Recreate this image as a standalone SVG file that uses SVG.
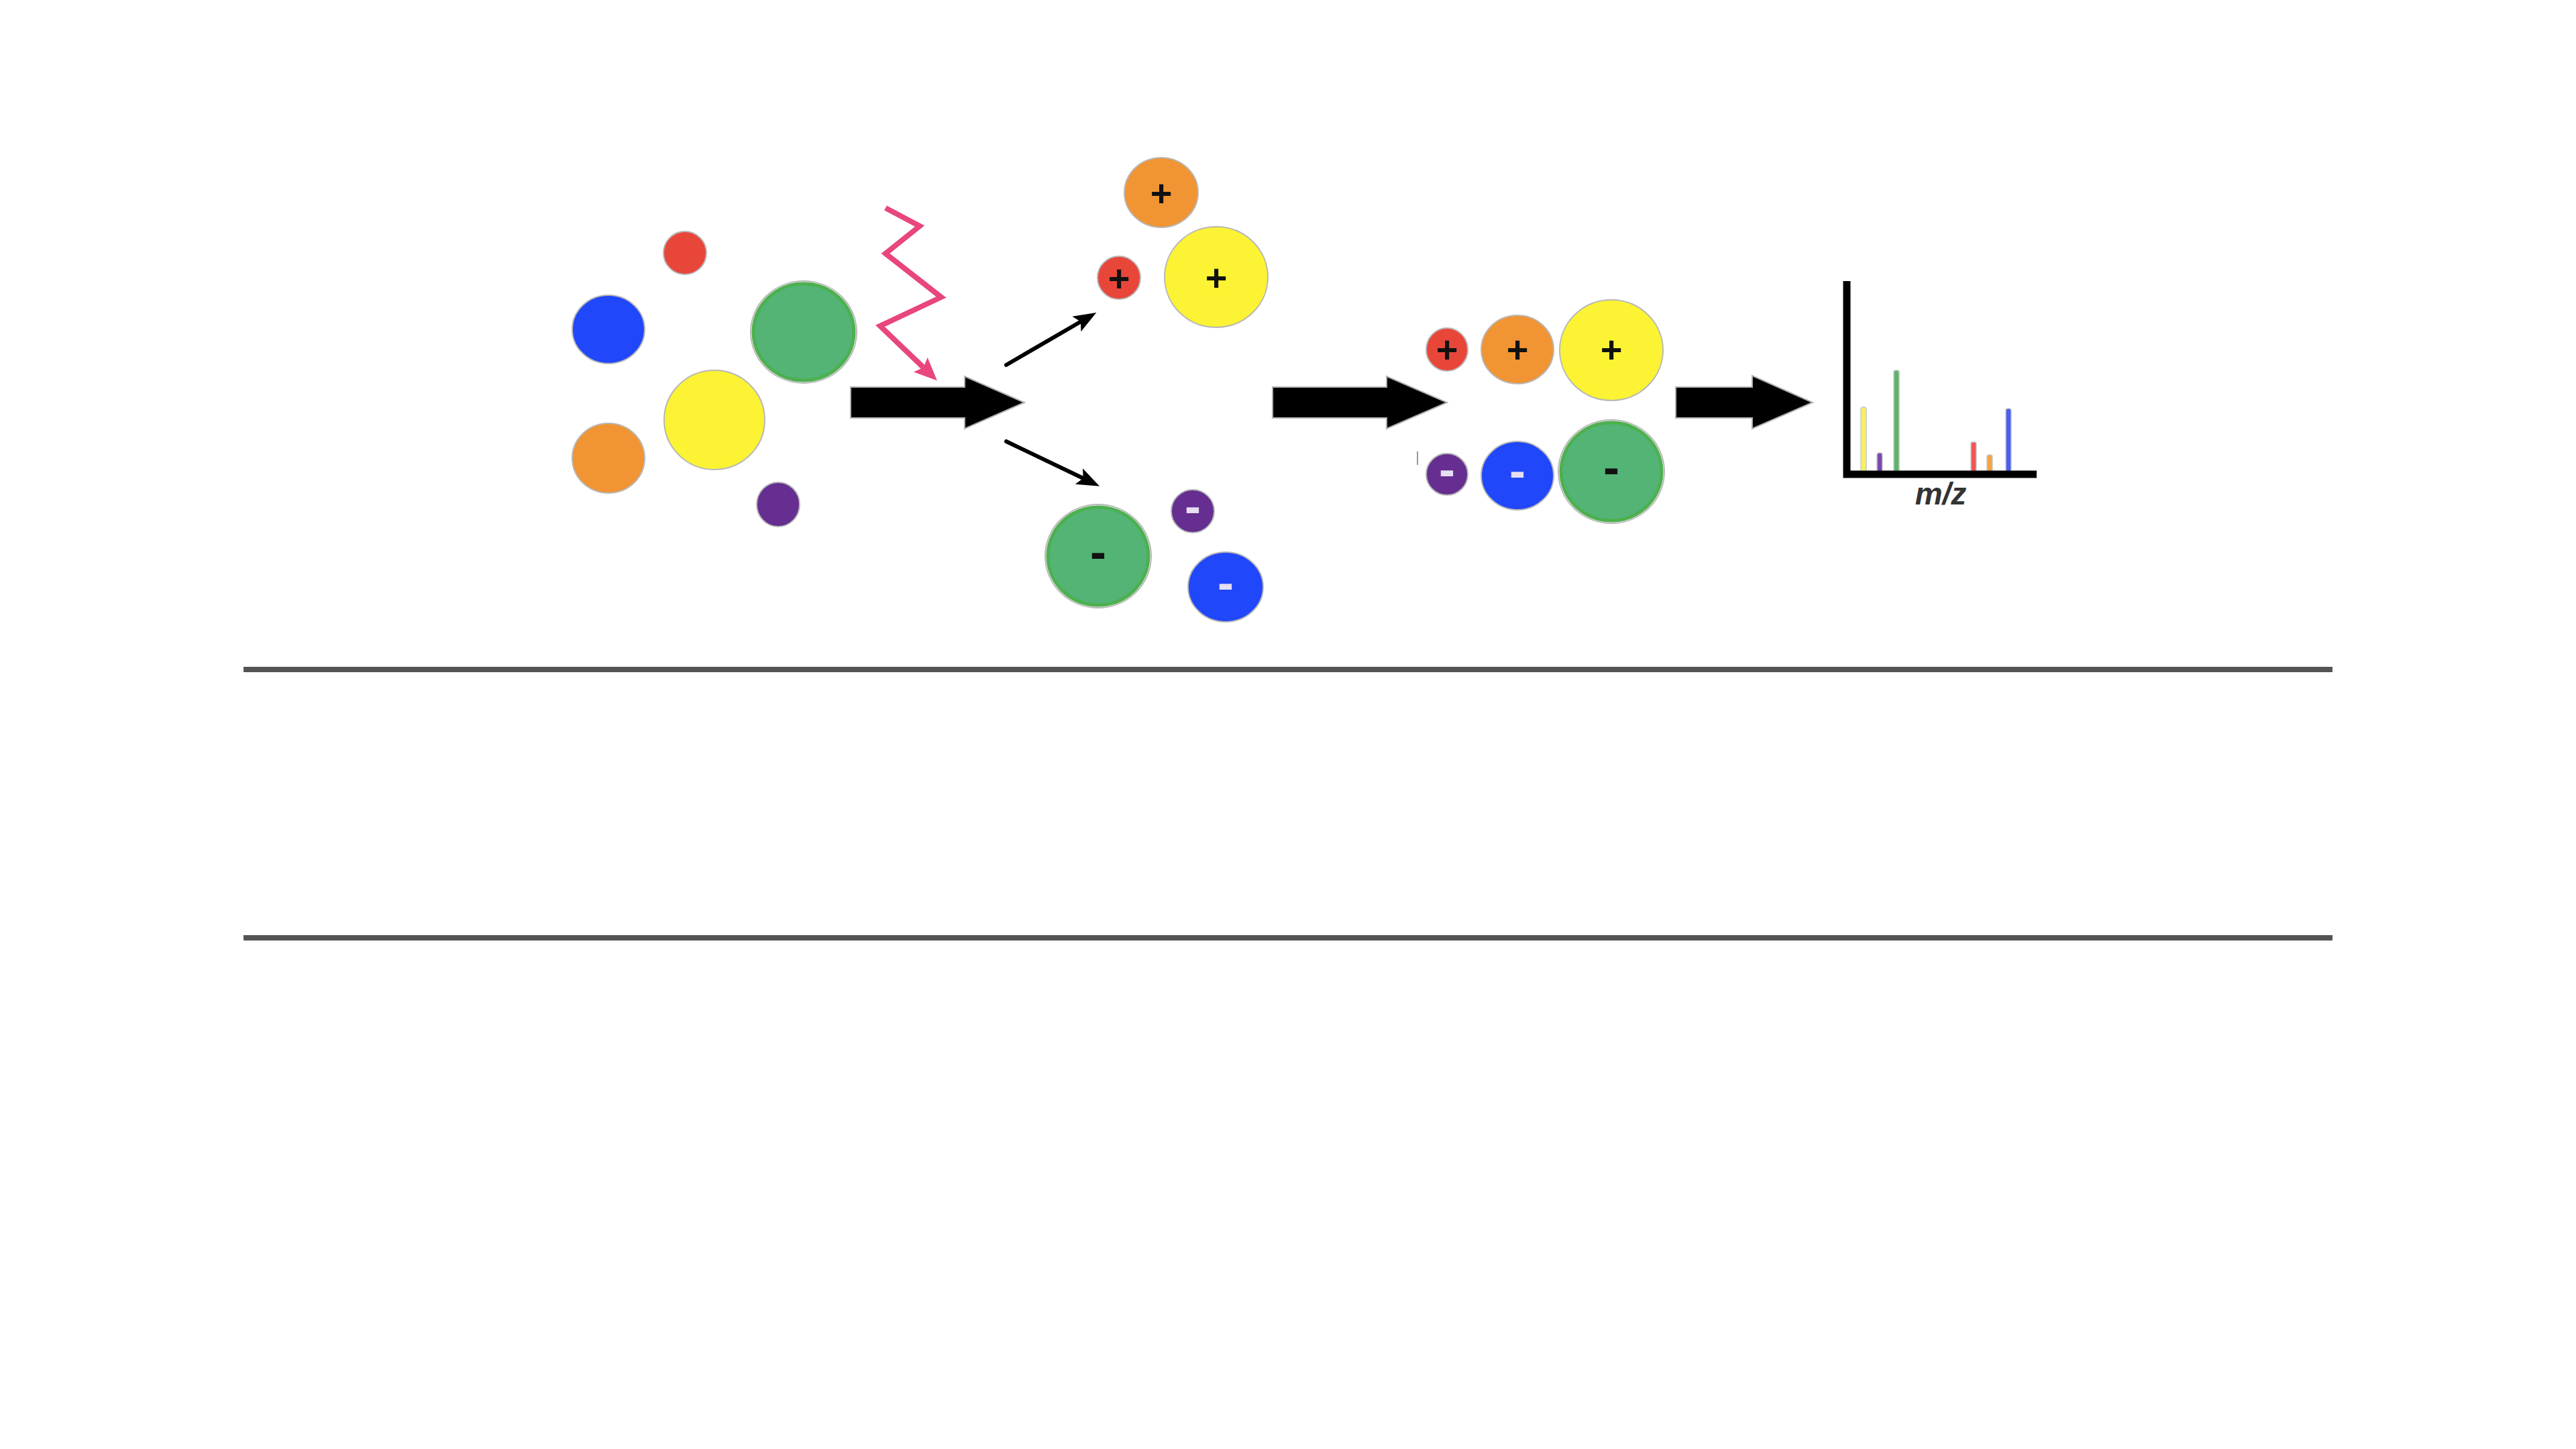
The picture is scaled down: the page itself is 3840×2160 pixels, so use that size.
<svg xmlns="http://www.w3.org/2000/svg" width="3840" height="2160" viewBox="0 0 3840 2160">
<style>
.o{stroke:#b8b8b8;stroke-width:2}
.red{fill:#E9463A}
.blue{fill:#2147FA}
.green{fill:#53B476;stroke:#4DB04F;stroke-width:5}
.gh{fill:none;stroke:#b8b8b8;stroke-width:2}
.yellow{fill:#FBF333}
.orange{fill:#F19433}
.purple{fill:#652E90}
.plus{font-family:"Liberation Sans",Arial,sans-serif;font-weight:bold;font-size:56px;text-anchor:middle;fill:#111}
.minus{font-family:"Liberation Sans",Arial,sans-serif;font-weight:bold;font-size:72px;text-anchor:middle;fill:#111}
.mw{fill:#E6DEF2}
.block{fill:#000;stroke:#b0b0b0;stroke-width:2}
.thin{stroke:#000;stroke-width:6;fill:none;stroke-linecap:round}
.zig{stroke:#E8467D;stroke-width:8;fill:none;stroke-linejoin:miter}
.bar{stroke:#c8c8c8;stroke-width:1.5}
</style>
<defs>
<marker id="ah" viewBox="0 0 34 28" refX="14" refY="14" markerWidth="34" markerHeight="28" markerUnits="userSpaceOnUse" orient="auto">
<path d="M0,1 L34,14 L0,27 L7,14 z" fill="#000"/>
</marker>
<marker id="ph" viewBox="0 0 34 30" refX="12" refY="15" markerWidth="34" markerHeight="30" markerUnits="userSpaceOnUse" orient="auto">
<path d="M0,0 L34,15 L0,30 L6,15 z" fill="#E8467D"/>
</marker>
</defs>
<rect width="3840" height="2160" fill="#fff"/>

<!-- neutral molecules -->
<g id="n-red"><ellipse class="red o" cx="1021" cy="377" rx="32" ry="32"/></g>
<g id="n-blue"><ellipse class="blue o" cx="907" cy="491" rx="54" ry="51"/></g>
<g id="n-green"><ellipse class="gh" cx="1198" cy="495" rx="79" ry="76"/><ellipse class="green" cx="1198" cy="495" rx="75" ry="72"/></g>
<g id="n-yellow"><ellipse class="yellow o" cx="1065" cy="626" rx="75" ry="74"/></g>
<g id="n-orange"><ellipse class="orange o" cx="907" cy="683" rx="54" ry="52"/></g>
<g id="n-purple"><ellipse class="purple o" cx="1160" cy="752" rx="32" ry="33"/></g>

<!-- ionised (split) -->
<g id="i-orange"><ellipse class="orange o" cx="1731" cy="287" rx="55" ry="52"/><text class="plus" x="1731" y="307">+</text></g>
<g id="i-red"><ellipse class="red o" cx="1668" cy="414" rx="32" ry="32"/><text class="plus" x="1668" y="434">+</text></g>
<g id="i-yellow"><ellipse class="yellow o" cx="1813" cy="413" rx="77" ry="75"/><text class="plus" x="1813" y="433">+</text></g>
<g id="i-green"><ellipse class="gh" cx="1637" cy="829" rx="79" ry="77"/><ellipse class="green" cx="1637" cy="829" rx="75" ry="73"/><text class="minus" x="1637" y="847">-</text></g>
<g id="i-purple"><ellipse class="purple o" cx="1778" cy="762" rx="32" ry="32"/><text class="minus mw" x="1778" y="779">-</text></g>
<g id="i-blue"><ellipse class="blue o" cx="1827" cy="875" rx="56" ry="52"/><text class="minus mw" x="1827" y="893">-</text></g>

<!-- sorted ions -->
<g id="s-red"><ellipse class="red o" cx="2157" cy="521" rx="31" ry="32"/><text class="plus" x="2157" y="540">+</text></g>
<g id="s-orange"><ellipse class="orange o" cx="2262" cy="521" rx="54" ry="51"/><text class="plus" x="2262" y="540">+</text></g>
<g id="s-yellow"><ellipse class="yellow o" cx="2402" cy="522" rx="77" ry="75"/><text class="plus" x="2402" y="540">+</text></g>
<g id="s-purple"><ellipse class="purple o" cx="2157" cy="707" rx="31" ry="31"/><text class="minus mw" x="2157" y="724">-</text></g>
<g id="s-blue"><ellipse class="blue o" cx="2262" cy="709" rx="54" ry="51"/><text class="minus mw" x="2262" y="726">-</text></g>
<g id="s-green"><ellipse class="gh" cx="2402" cy="703" rx="79" ry="77"/><ellipse class="green" cx="2402" cy="703" rx="75" ry="73"/><text class="minus" x="2402" y="721">-</text></g>
<line x1="2113" y1="673" x2="2113" y2="693" stroke="#999" stroke-width="2"/>

<!-- spectrum -->
<g id="spectrum">
<rect class="bar" x="2774" y="607" width="8" height="97" rx="3" fill="#F8F060"/>
<rect class="bar" x="2798" y="675" width="8" height="29" rx="3" fill="#7A48B0"/>
<rect class="bar" x="2823" y="552" width="8" height="152" rx="3" fill="#5DB56C"/>
<rect class="bar" x="2938" y="659" width="8" height="45" rx="2" fill="#F25555"/>
<rect class="bar" x="2962" y="678" width="8" height="26" rx="3" fill="#F4A443"/>
<rect class="bar" x="2990" y="609" width="8" height="95" rx="3" fill="#4C5EF4"/>
<path d="M2753,419 V707 H3036" fill="none" stroke="#000" stroke-width="11"/>
<text x="2893" y="752" font-family="'Liberation Sans',Arial,sans-serif" font-size="46" font-style="italic" font-weight="bold" fill="#333" text-anchor="middle">m/z</text>
</g>

<!-- connectors -->
<g id="connectors">
<polygon class="block" points="1268,577 1438,577 1438,561 1527,600 1438,639 1438,623 1268,623"/>
<polygon class="block" points="1897,577 2067,577 2067,561 2157,600 2067,639 2067,623 1897,623"/>
<polygon class="block" points="2498,577 2612,577 2612,560 2702,600 2612,639 2612,623 2498,623"/>
<line class="thin" x1="1500" y1="544" x2="1617" y2="476" marker-end="url(#ah)"/>
<line class="thin" x1="1500" y1="658" x2="1621" y2="716" marker-end="url(#ah)"/>
<polyline class="zig" points="1320,310 1371,337 1320,378 1403,443 1312,486 1381,552" marker-end="url(#ph)"/>
</g>

<!-- separator lines -->
<rect x="363" y="994" width="3114" height="8" fill="#545454"/>
<rect x="363" y="1394" width="3114" height="8" fill="#545454"/>
</svg>
